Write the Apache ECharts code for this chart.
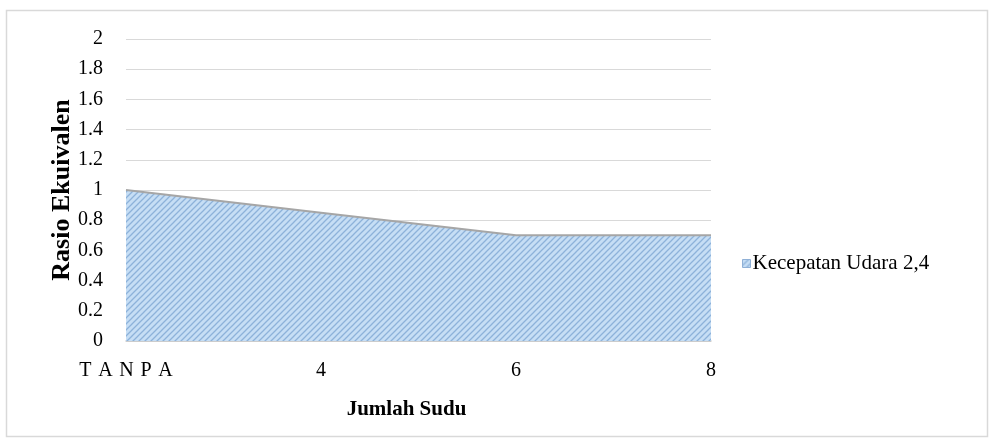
<!DOCTYPE html>
<html>
<head>
<meta charset="utf-8">
<script src="https://cdn.jsdelivr.net/npm/echarts@6/dist/echarts.min.js"></script>
<style>
  html, body { margin: 0; padding: 0; background: #ffffff; }
  #chart { width: 995px; height: 447px; }
</style>
</head>
<body>
<div id="chart"></div>
<script>
// Equivalence ratio by number of blades, air velocity 2.4
const categories = ['TANPA', '4', '6', '8'];
const ratioValues = [1.0, 0.85, 0.7, 0.7];
const seriesName = 'Kecepatan Udara 2,4';
const yTicks = { min: 0, max: 2, interval: 0.2 };

// Diagonal hatch fill tile
function hatchTile() {
  const c = document.createElement('canvas');
  c.width = 6; c.height = 6;
  const g = c.getContext('2d');
  g.fillStyle = '#c6def5';
  g.fillRect(0, 0, 6, 6);
  g.strokeStyle = '#8db2da';
  g.lineWidth = 1.3;
  g.beginPath();
  g.moveTo(-1, 7); g.lineTo(7, -1);
  g.moveTo(-4, 4); g.lineTo(4, -4);
  g.moveTo(2, 10); g.lineTo(10, 2);
  g.stroke();
  return c;
}
const hatch = { image: hatchTile(), repeat: 'repeat' };

const serif = '"Liberation Serif", "Times New Roman", serif';
const spaced = s => s.split('').join('\u2005\u200a');
const chart = echarts.init(document.getElementById('chart'), null, { renderer: 'canvas' });

chart.setOption({
  animation: false,
  textStyle: { fontFamily: serif, color: '#000' },
  graphic: [{
    type: 'rect',
    shape: { x: 6.5, y: 10.5, width: 981, height: 426 },
    style: { fill: 'none', stroke: '#d9d9d9', lineWidth: 1.5 },
    silent: true
  }],
  grid: { left: 126, right: 284, top: 39, bottom: 106 },
  legend: {
    left: 737, top: 248,
    itemWidth: 8, itemHeight: 8, itemGap: 4,
    icon: 'rect',
    textStyle: { fontFamily: serif, fontSize: 21, color: '#000', padding: [0, 0, 0, -3] },
    data: [{ name: seriesName, itemStyle: { color: hatch, borderColor: '#8fb0d6', borderWidth: 1 } }]
  },
  xAxis: {
    type: 'category',
    data: categories,
    boundaryGap: false,
    axisLine: { show: true, lineStyle: { color: '#c8c8c8', width: 1.5 } },
    axisTick: { show: false },
    axisLabel: {
      margin: 20, fontSize: 20, color: '#000', fontFamily: serif,
      formatter: v => v === 'TANPA' ? spaced(v) : v
    },
    name: 'Jumlah Sudu',
    nameLocation: 'middle',
    nameGap: 58,
    nameMoveOverlap: false,
    nameTextStyle: { fontFamily: serif, fontSize: 21, fontWeight: 'bold', color: '#000', padding: [0, 24, 0, 0] }
  },
  yAxis: {
    type: 'value',
    min: yTicks.min, max: yTicks.max, interval: yTicks.interval,
    axisLine: { show: false },
    axisTick: { show: false },
    splitLine: { lineStyle: { color: '#d9d9d9', width: 1 } },
    axisLabel: { margin: 23, fontSize: 20, color: '#000', fontFamily: serif },
    name: 'Rasio Ekuivalen',
    nameLocation: 'middle',
    nameGap: 51,
    nameMoveOverlap: false,
    nameRotate: 90,
    nameTextStyle: { fontFamily: serif, fontSize: 26, fontWeight: 'bold', color: '#000' }
  },
  series: [{
    name: seriesName,
    type: 'line',
    data: ratioValues,
    symbol: 'none',
    lineStyle: { color: '#a6a6a6', width: 2 },
    itemStyle: { color: hatch },
    areaStyle: { color: hatch, opacity: 1 }
  }]
});
</script>
</body>
</html>
